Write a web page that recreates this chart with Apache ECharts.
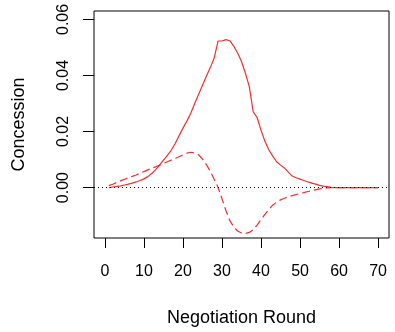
<!DOCTYPE html>
<html>
<head>
<meta charset="utf-8">
<script src="https://cdn.jsdelivr.net/npm/echarts@6/dist/echarts.min.js"></script>
<style>
html,body{margin:0;padding:0;background:#fff;}
#c{width:395px;height:332px;}
</style>
</head>
<body>
<div id="c"></div>
<script>
var rounds = [];
for (var r = 1; r <= 70; r++) rounds.push(r);

var solidValues = [
0.0000,0.0002,0.0004,0.0006,0.0009,0.0012,0.0016,0.0020,0.0025,0.0031,
0.0039,0.0050,0.0064,0.0080,0.0098,0.0115,0.0133,0.0157,0.0185,0.0212,
0.0237,0.0265,0.0300,0.0332,0.0365,0.0397,0.0428,0.0462,0.0523,0.0523,
0.0528,0.0524,0.0505,0.0480,0.0450,0.0408,0.0360,0.0270,0.0250,0.0205,
0.0165,0.0135,0.0112,0.0092,0.0080,0.0070,0.0055,0.0041,0.0035,0.0030,
0.0025,0.0020,0.0016,0.0012,0.0008,0.0005,0.0003,0.0001,0,0,
0,0,0,0,0,0,0,0,0,0
];

var dashedValues = [
0.0007,0.0012,0.0018,0.0024,0.0029,0.0035,0.0040,0.0045,0.0051,0.0057,
0.0063,0.0069,0.0074,0.0080,0.0086,0.0092,0.0098,0.0104,0.0110,0.0117,
0.0123,0.0126,0.0124,0.0117,0.0102,0.0082,0.0058,0.0030,0.0000,-0.0040,
-0.0082,-0.0118,-0.0140,-0.0155,-0.0162,-0.0164,-0.0160,-0.0150,-0.0134,-0.0114,
-0.0096,-0.0078,-0.0063,-0.0052,-0.0044,-0.0038,-0.0033,-0.0029,-0.0025,-0.0021,
-0.0018,-0.0014,-0.0011,-0.0008,-0.0005,-0.0003,-0.0001,0,0,0,
0,0,0,0,0,0,0,0,0,0
];

var xTicks = [0,10,20,30,40,50,60,70];
var yTicks = [0.00,0.02,0.04,0.06];

function pairs(xs, ys){ return xs.map(function(x,i){ return [x, ys[i]]; }); }

var font = 'Liberation Sans, Arial, Helvetica, sans-serif';
var chart = echarts.init(document.getElementById('c'), null, {renderer:'canvas'});
chart.setOption({
  animation:false,
  backgroundColor:'#ffffff',
  grid:{left:94, right:6, top:11, bottom:89, show:true, borderColor:'#000', borderWidth:1, backgroundColor:'transparent'},
  xAxis:{
    type:'value', min:-2.8, max:72.8,
    name:'Negotiation Round', nameLocation:'middle', nameGap:71,
    nameTextStyle:{fontFamily:font, fontSize:18, color:'#000'},
    axisLine:{show:false, onZero:false},
    splitLine:{show:false},
    axisTick:{show:true, length:10, inside:false, customValues:xTicks, lineStyle:{color:'#000', width:1}},
    axisLabel:{customValues:xTicks, fontFamily:font, fontSize:16, color:'#000', margin:26}
  },
  yAxis:{
    type:'value', min:-0.018, max:0.063,
    name:'Concession', nameLocation:'middle', nameGap:66, nameRotate:90,
    nameTextStyle:{fontFamily:font, fontSize:18, color:'#000'},
    axisLine:{show:false, onZero:false},
    splitLine:{show:false},
    axisTick:{show:true, length:11, inside:false, customValues:yTicks, lineStyle:{color:'#000', width:1}},
    axisLabel:{customValues:yTicks, rotate:90, fontFamily:font, fontSize:16, color:'#000', margin:22,
      formatter:function(v){ return v.toFixed(2); }}
  },
  series:[
    {type:'line', data:pairs(rounds, solidValues), symbol:'none', smooth:false,
     lineStyle:{color:'#f03030', width:1.2},
     markLine:{silent:true, symbol:['none','none'], label:{show:false},
       lineStyle:{color:'#000', type:[1,3], width:1},
       data:[{yAxis:0}]}},
    {type:'line', data:pairs(rounds, dashedValues), symbol:'none', smooth:false,
     lineStyle:{color:'#f03030', width:1.2, type:[8,4]}}
  ]
});
</script>
</body>
</html>
